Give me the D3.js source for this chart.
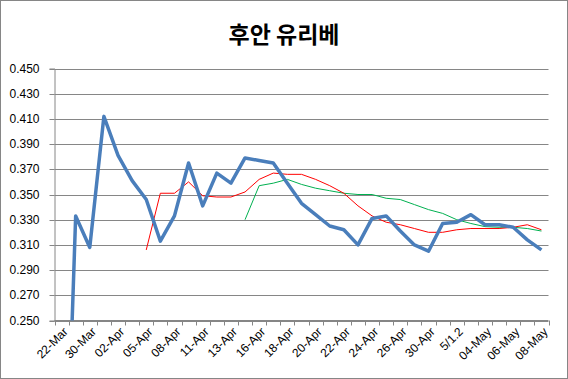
<!DOCTYPE html>
<html><head><meta charset="utf-8">
<script src="https://cdn.jsdelivr.net/npm/d3@7"></script>
<style>body{margin:0;background:#fff}svg{display:block}</style>
</head><body>
<script>
// Categories (game dates); only every second one is labelled on the axis
const categories = ["22-Mar","23-Mar","30-Mar","01-Apr","02-Apr","04-Apr","05-Apr","06-Apr","08-Apr","09-Apr",
  "11-Apr","12-Apr","13-Apr","15-Apr","16-Apr","17-Apr","18-Apr","19-Apr","20-Apr","21-Apr",
  "22-Apr","23-Apr","24-Apr","25-Apr","26-Apr","27-Apr","30-Apr","5/1.1","5/1.2","03-May",
  "04-May","05-May","06-May","07-May","08-May"];
// Batting average (thick blue)
const average = [0.000,0.333,0.308,0.412,0.381,0.361,0.346,0.313,0.333,0.375,
  0.341,0.367,0.359,0.379,0.377,0.375,0.359,0.343,0.334,0.325,
  0.322,0.310,0.331,0.333,0.321,0.310,0.305,0.327,0.328,0.334,
  0.326,0.326,0.324,0.314,0.306];
// Moving average (red)
const movingRed = [null,null,null,null,null,null,0.306,0.351,0.351,0.360,
  0.349,0.348,0.348,0.352,0.362,0.367,0.366,0.366,0.362,0.357,
  0.351,0.341,0.333,0.328,0.326,0.323,0.320,0.320,0.322,0.323,
  0.323,0.323,0.324,0.326,0.322];
// Moving average (green)
const movingGreen = [null,null,null,null,null,null,null,null,null,null,
  null,null,null,0.330,0.357,0.359,0.362,0.358,0.355,0.353,
  0.351,0.350,0.350,0.347,0.346,0.342,0.338,0.335,0.330,0.327,
  0.3245,0.324,0.324,0.323,0.321];
const yTicks = [0.250,0.270,0.290,0.310,0.330,0.350,0.370,0.390,0.410,0.430,0.450];
const title = "후안 유리베";

const W = 568, H = 379;
const pL = 54.5, pR = 548.5, pT = 68.5, pB = 320.5;
const grey = "#868686";

const svg = d3.select("body").append("svg").attr("width", W).attr("height", H);
svg.append("rect").attr("x",0.5).attr("y",0.5).attr("width",W-1).attr("height",H-1)
  .attr("fill","#fff").attr("stroke",grey);

svg.append("text").attr("x", 284).attr("y", 43).attr("text-anchor","middle")
  .attr("font-family","'Noto Sans CJK KR', sans-serif").attr("font-weight","bold")
  .attr("font-size", 23).attr("fill","#000").text(title);

const x = d3.scaleBand().domain(categories).range([pL, pR]).padding(0);
const y = d3.scaleLinear().domain([0.25, 0.45]).range([pB, pT]);
const cx = c => x(c) + x.bandwidth()/2;

// gridlines
svg.append("g").selectAll("line").data(yTicks).join("line")
  .attr("x1", pL).attr("x2", pR)
  .attr("y1", d => Math.round(y(d)) + 0.5).attr("y2", d => Math.round(y(d)) + 0.5)
  .attr("stroke", grey).attr("stroke-width", 1);

// y axis
const yAxis = svg.append("g").attr("transform", `translate(${pL},0)`)
  .call(d3.axisLeft(y).tickValues(yTicks).tickSize(5).tickPadding(10).tickFormat(d3.format(".3f")));
yAxis.select(".domain").attr("stroke", grey);
yAxis.selectAll(".tick").attr("transform", d => `translate(0,${Math.round(y(d)) + 0.5})`);
yAxis.selectAll(".tick line").attr("stroke", grey);
yAxis.selectAll(".tick text").attr("font-family","'Liberation Sans', Arial, sans-serif")
  .attr("font-size", 12).attr("fill","#000");

// x axis line and ticks at category boundaries
const boundaries = categories.map(c => x(c)).concat([pR]);
svg.append("line").attr("x1", pL).attr("x2", pR).attr("y1", pB).attr("y2", pB)
  .attr("stroke", grey);
svg.append("g").selectAll("line").data(boundaries).join("line")
  .attr("x1", d => Math.round(d) + 0.5).attr("x2", d => Math.round(d) + 0.5)
  .attr("y1", pB).attr("y2", pB + 5).attr("stroke", grey);

// x labels (every second category)
const shown = categories.filter((c, i) => i % 2 === 0);
svg.append("g").selectAll("text").data(shown).join("text")
  .attr("transform", d => `translate(${cx(d) + 4},${pB + 9}) rotate(-45)`)
  .attr("text-anchor","end").attr("dy","0.35em")
  .attr("font-family","'Liberation Sans', Arial, sans-serif").attr("font-size", 12)
  .attr("fill","#000").text(d => d);

// clip
svg.append("clipPath").attr("id","plot").append("rect")
  .attr("x", pL).attr("y", pT - 5).attr("width", pR - pL).attr("height", pB - pT + 5);

const mk = arr => categories.map((c, i) => ({c, v: arr[i]}));
const line = d3.line().defined(d => d.v != null).x(d => cx(d.c)).y(d => y(d.v));

const g = svg.append("g").attr("clip-path","url(#plot)");
g.append("path").datum(mk(movingGreen)).attr("d", line).attr("fill","none")
  .attr("stroke","#00B050").attr("stroke-width",1);
g.append("path").datum(mk(movingRed)).attr("d", line).attr("fill","none")
  .attr("stroke","#FF0000").attr("stroke-width",1);
g.append("path").datum(mk(average)).attr("d", line).attr("fill","none")
  .attr("stroke","#4A7EBB").attr("stroke-width",3.5).attr("stroke-linejoin","round");
</script>
</body></html>
